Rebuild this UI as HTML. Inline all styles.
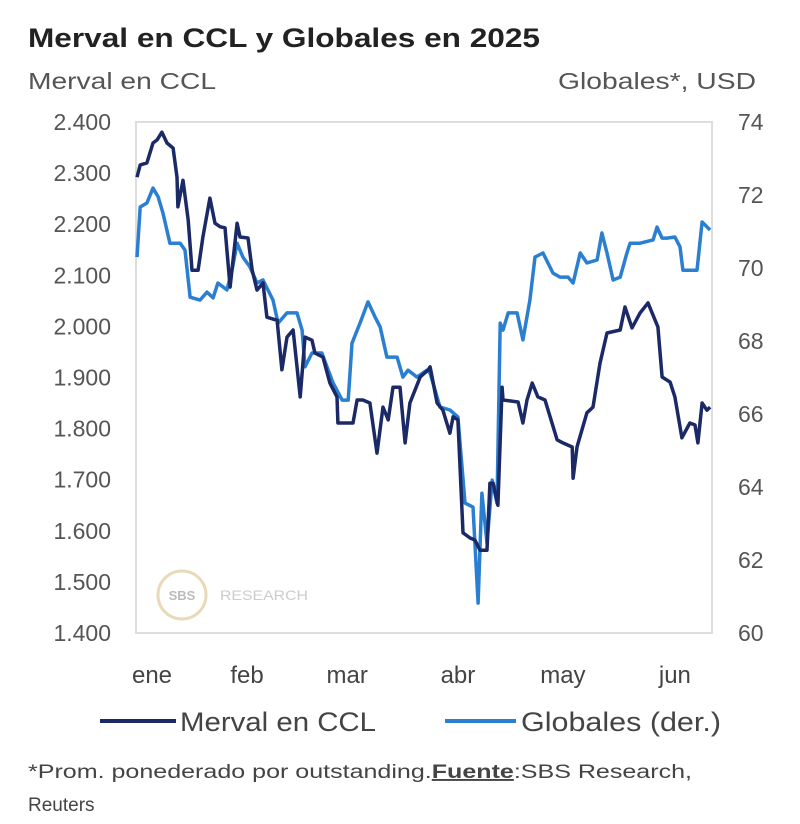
<!DOCTYPE html>
<html><head><meta charset="utf-8"><style>
body{margin:0;background:#fff;width:800px;height:819px;overflow:hidden;font-family:"Liberation Sans",sans-serif}
</style></head><body>
<svg id="chart" width="800" height="819" xmlns="http://www.w3.org/2000/svg" font-family="Liberation Sans, sans-serif">
<text x="28" y="47" font-size="27" font-weight="bold" fill="#222" textLength="512" lengthAdjust="spacingAndGlyphs">Merval en CCL y Globales en 2025</text>
<text x="28" y="89" font-size="23" fill="#555" textLength="188" lengthAdjust="spacingAndGlyphs">Merval en CCL</text>
<text x="756" y="89" font-size="23" fill="#555" text-anchor="end" textLength="198" lengthAdjust="spacingAndGlyphs">Globales*, USD</text>
<rect x="136" y="122" width="576" height="511" fill="none" stroke="#ddd" stroke-width="2"/>
<g>
<circle cx="182" cy="595" r="24" fill="#fff" stroke="#e8d9b8" stroke-width="3"/>
<text x="182" y="600" font-size="13" font-weight="bold" fill="#bbb" text-anchor="middle">SBS</text>
<text x="220" y="600" font-size="14" fill="#ccc" textLength="88" lengthAdjust="spacingAndGlyphs">RESEARCH</text>
</g>
<g id="yleft"></g><g id="yright"></g><g id="xaxis"></g><g id="series"></g>
<g>
<line x1="100" y1="721" x2="176" y2="721" stroke="#1b2a66" stroke-width="4"/>
<text x="180" y="731" font-size="27" fill="#444" textLength="196" lengthAdjust="spacingAndGlyphs">Merval en CCL</text>
<line x1="445" y1="721" x2="516" y2="721" stroke="#2b7fd0" stroke-width="4"/>
<text x="521" y="731" font-size="27" fill="#444" textLength="200" lengthAdjust="spacingAndGlyphs">Globales (der.)</text>
</g>
<text x="28" y="778" font-size="19" fill="#444" textLength="664" lengthAdjust="spacingAndGlyphs">*Prom. ponederado por outstanding.<tspan font-weight="bold" text-decoration="underline">Fuente</tspan>:SBS Research,</text>
<text x="28" y="811" font-size="19" fill="#444">Reuters</text>
</svg>
<script>
const leftTicks=[1400,1500,1600,1700,1800,1900,2000,2100,2200,2300,2400];
const leftTickLabels=["1.400","1.500","1.600","1.700","1.800","1.900","2.000","2.100","2.200","2.300","2.400"];
const rightTicks=[60,62,64,66,68,70,72,74];
const monthLabels=["ene","feb","mar","abr","may","jun"];
const monthDays=[5,34.7,66,100.6,133.4,168.4];
const mervalDays=[0.3,1.3,3.4,5.3,6.6,8.1,9.7,11.6,12.8,13.1,14.7,16.3,17.5,19.4,20.9,23.1,24.7,26.3,27.8,29.4,31.6,32.5,35,36.3,37.8,39.7,40.9,44.1,45.6,47.2,49.1,51.3,52.8,55,55.9,58.4,60.6,62.8,63.1,67.8,69.1,70.9,73.1,75.3,77.2,78.8,80.3,82.5,84.1,85.6,88.8,91.3,91.9,94.1,95.9,98.1,99.1,100.6,102.2,104.4,105.9,107.5,109.7,110.6,111.6,113.1,114.4,114.7,119.4,120.9,122.2,123.8,125.6,127.8,131.6,133.4,136.3,136.6,137.8,140.9,142.8,145,147.2,151.3,152.8,155,157.5,160,163.1,164.4,166.9,168.4,170.6,173.1,174.7,175.6,176.9,178.4,179.4];
const mervalValues=[2292,2316,2320,2359,2365,2380,2359,2349,2292,2234,2286,2208,2110,2110,2175,2251,2202,2195,2193,2077,2202,2175,2173,2110,2071,2085,2018,2012,1915,1979,1993,1862,1979,1973,1948,1940,1889,1862,1811,1811,1856,1856,1850,1752,1842,1817,1881,1881,1772,1850,1901,1915,1921,1850,1836,1791,1823,1817,1596,1586,1582,1562,1562,1693,1693,1650,1881,1856,1852,1811,1856,1889,1862,1856,1778,1772,1764,1703,1764,1831,1842,1928,1987,1993,2038,1997,2026,2046,1999,1901,1891,1862,1782,1811,1807,1772,1850,1836,1842];
const globalesDays=[0.3,1.3,3.4,5.3,6.9,8.4,10.6,13.8,15.3,16.9,20,22.2,24.1,25.6,28.4,30,31.6,33.4,35.6,37.8,39.7,42.8,44.4,47.2,50.3,51.9,52.8,55,58.1,59.7,61.6,64.4,66.3,67.5,70,72.5,74.7,76.3,78.4,81.6,83.4,85,87.8,90.9,91.9,95,98.1,100.6,102.8,105.3,106.9,108.1,109.7,111.3,112.8,113.8,114.7,116.3,119.1,120.9,123.1,124.7,127.2,130.3,132.5,135,136.6,138.8,140.9,144.1,145.6,147.2,149.1,151.3,153.4,154.4,157.5,161.6,162.8,164.4,165.9,168.4,170,170.9,175.3,176.9,177.8,179.4];
const globalesValues=[70.30,71.67,71.78,72.19,71.95,71.51,70.68,70.68,70.49,69.20,69.12,69.34,69.18,69.59,69.40,69.94,70.68,70.30,70.03,69.59,69.67,69.12,68.49,68.77,68.77,68.30,67.29,67.67,67.67,67.29,66.85,66.38,66.38,67.94,68.49,69.07,68.66,68.38,67.56,67.56,67.01,67.20,67.01,67.20,67.12,66.19,66.11,65.92,63.56,63.45,60.82,63.83,62.46,64.19,63.56,68.49,68.30,68.77,68.77,68.03,69.12,70.30,70.41,69.86,69.75,69.75,69.59,70.41,70.14,70.22,70.96,70.41,69.67,69.75,70.41,70.68,70.68,70.77,71.12,70.82,70.82,70.85,70.58,69.94,69.94,71.26,71.18,71.04];

const NS="http://www.w3.org/2000/svg";
const X0=136,X1=712,Y0=122,Y1=633;
function xScale(d){return X0+d*3.2;}
function yLeft(v){return Y1-(v-1400)/(2400-1400)*(Y1-Y0);}
function yRight(v){return Y1-(v-60)/(74-60)*(Y1-Y0);}
function mk(tag,attrs,parent,txt){const e=document.createElementNS(NS,tag);for(const k in attrs)e.setAttribute(k,attrs[k]);if(txt!=null)e.textContent=txt;parent.appendChild(e);return e;}
const gl=document.getElementById('yleft'),gr=document.getElementById('yright'),gx=document.getElementById('xaxis'),gs=document.getElementById('series');
leftTicks.forEach((v,i)=>{
  const t=mk('text',{x:111,y:yLeft(v)+8,'font-size':23,fill:'#555','text-anchor':'end'},gl,leftTickLabels[i]);
  
  
});
rightTicks.forEach(v=>{
  const t=mk('text',{x:738,y:yRight(v)+8,'font-size':23,fill:'#555'},gr,String(v));
  
  
});
monthLabels.forEach((m,i)=>{
  const t=mk('text',{x:xScale(monthDays[i]),y:683,'font-size':24,fill:'#444','text-anchor':'middle'},gx,m);
  
  
});
function path(days,vals,ys){return days.map((d,i)=>(i?'L':'M')+xScale(d).toFixed(1)+','+ys(vals[i]).toFixed(1)).join('');}
const pg=mk('path',{d:path(globalesDays,globalesValues,yRight),fill:'none',stroke:'#2b7fd0','stroke-width':3.5,'stroke-linejoin':'round'},gs);


const pm=mk('path',{d:path(mervalDays,mervalValues,yLeft),fill:'none',stroke:'#1b2a66','stroke-width':3.5,'stroke-linejoin':'round'},gs);


</script>
</body></html>
